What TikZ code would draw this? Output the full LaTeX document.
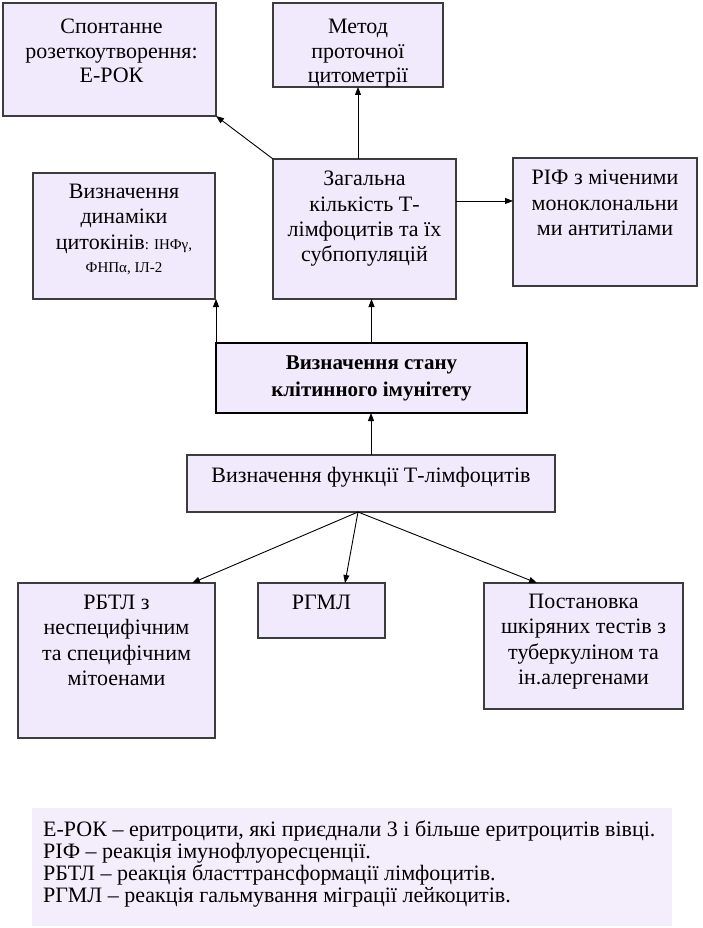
\documentclass[tikz,border=0pt]{standalone}
\usepackage{fontspec}
\setmainfont{Liberation Serif}
\usetikzlibrary{arrows.meta,positioning}
\definecolor{boxfill}{RGB}{241,234,252}
\definecolor{legfill}{RGB}{243,237,252}
\definecolor{boxline}{RGB}{60,60,60}
\begin{document}
\begin{tikzpicture}[x=1pt,y=-1pt,
 box/.style={draw=boxline, fill=boxfill, line width=1.1pt, rectangle, anchor=north west, inner sep=0pt, outer sep=0pt},
 txt/.style={font=\fontsize{22}{25.3}\selectfont, align=center, inner sep=0pt},
 legtxt/.style={font=\fontsize{22}{21.8}\selectfont, align=left, inner sep=0pt},
 arr/.style={-{Triangle[length=8pt,width=6pt]}, line width=0.9pt, black},
]
\useasboundingbox (0,0) rectangle (702,928);
% boxes
\node[box, minimum width=213pt, minimum height=113pt] (A) at (3,3) {};
\node[box, minimum width=170pt, minimum height=84pt] (B) at (273,3) {};
\node[box, minimum width=182pt, minimum height=126pt] (C) at (33,173) {};
\node[box, minimum width=183pt, minimum height=140pt] (D) at (273,159) {};
\node[box, minimum width=184pt, minimum height=128pt] (E) at (513,158) {};
\node[box, draw=black, line width=2.6pt, minimum width=311pt, minimum height=70pt] (F) at (216,343) {};
\node[box, minimum width=368pt, minimum height=57pt] (G) at (187,455) {};
\node[box, minimum width=197pt, minimum height=155pt] (H) at (18,583) {};
\node[box, minimum width=127pt, minimum height=55pt] (I) at (258,583) {};
\node[box, minimum width=199pt, minimum height=126pt] (J) at (484,583) {};
\node[fill=legfill, anchor=north west, inner sep=0pt, minimum width=640pt, minimum height=118pt] (L) at (32,808) {};
% texts
\node[txt, font=\fontsize{22}{24.5}\selectfont, below=16pt of A.north, xshift=2pt] (At) {Спонтанне\\розеткоутворення:\\Е-РОК};
\node[txt, font=\fontsize{22}{24.5}\selectfont, below=16pt of B.north] (Bt) {Метод\\проточної\\цитометрії};
\node[txt, below=11pt of C.north] (Ct) {Визначення\\динаміки\\цитокінів{\fontsize{15}{16}\selectfont: ІНФγ,}\\[-2pt]{\fontsize{15}{16}\selectfont ФНПα, ІЛ-2}};
\node[txt, below=12pt of D.north] (Dt) {Загальна\\кількість Т-\\лімфоцитів та їх\\субпопуляцій};
\node[txt, below=12pt of E.north] (Et) {РІФ з міченими\\моноклональни\\ми антитілами};
\node[txt, font=\bfseries\fontsize{21}{27}\selectfont] (Ft) at (F.center) {Визначення стану\\клітинного імунітету};
\node[txt, below=12pt of G.north] (Gt) {Визначення функції Т-лімфоцитів};
\node[txt, below=12pt of H.north] (Ht) {РБТЛ з\\неспецифічним\\та специфічним\\мітоенами};
\node[txt, below=12pt of I.north] (It) {РГМЛ};
\node[txt, below=11pt of J.north] (Jt) {Постановка\\шкіряних тестів з\\туберкуліном та\\ін.алергенами};
\node[legtxt, anchor=north west] (Lt) at ([xshift=11pt,yshift=-13pt]L.north west) {Е-РОК – еритроцити, які приєднали 3 і більше еритроцитів вівці.\\РІФ – реакція імунофлуоресценції.\\РБТЛ – реакція бласттрансформації лімфоцитів.\\РГМЛ – реакція гальмування міграції лейкоцитів.};
% connectors
\draw[arr] (D.north west) -- (A.south east);
\draw[arr] (B.south |- D.north) -- (B.south);
\coordinate (de) at (456,201);
\draw[arr] (D.east |- de) -- (E.west |- de);
\draw[arr] (F.north west) -- (F.north west |- C.south);
\draw[arr] (F.north) -- (F.north |- D.south);
\draw[arr] (G.north) -- (G.north |- F.south);
\coordinate (gs) at (358,512);
\coordinate (hT) at (192,583);
\coordinate (iT) at (345,583);
\coordinate (jT) at (537,583);
\draw[arr] (gs) -- (hT);
\draw[arr] (gs) -- (iT);
\draw[arr] (gs) -- (jT);
\end{tikzpicture}
\end{document}
